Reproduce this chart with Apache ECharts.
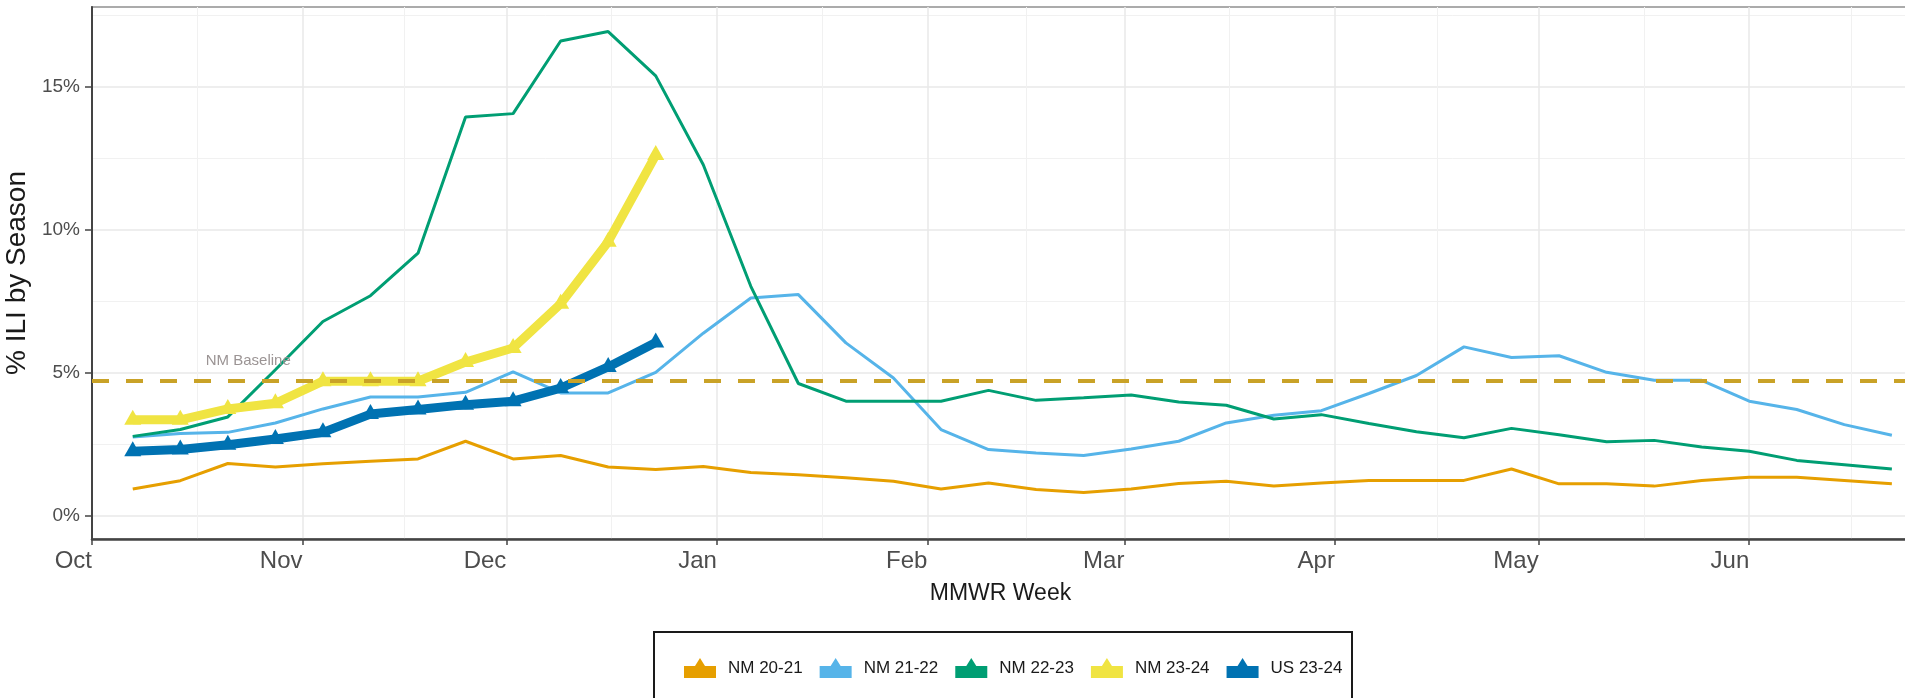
<!DOCTYPE html>
<html>
<head>
<meta charset="utf-8">
<title>% ILI by Season</title>
<script src="https://cdn.jsdelivr.net/npm/echarts@6.0.0/dist/echarts.min.js"></script>
<style>
  html, body { margin: 0; padding: 0; background: #fff; }
  #chart { width: 1905px; height: 698px; }
</style>
</head>
<body>
<div id="chart"></div>
<script>
// MMWR week ending dates (season aligned on the 2023-24 calendar)
const weeks = [
  '2023-10-07', '2023-10-14', '2023-10-21', '2023-10-28',
  '2023-11-04', '2023-11-11', '2023-11-18', '2023-11-25',
  '2023-12-02', '2023-12-09', '2023-12-16', '2023-12-23', '2023-12-30',
  '2024-01-06', '2024-01-13', '2024-01-20', '2024-01-27',
  '2024-02-03', '2024-02-10', '2024-02-17', '2024-02-24',
  '2024-03-02', '2024-03-09', '2024-03-16', '2024-03-23', '2024-03-30',
  '2024-04-06', '2024-04-13', '2024-04-20', '2024-04-27',
  '2024-05-04', '2024-05-11', '2024-05-18', '2024-05-25',
  '2024-06-01', '2024-06-08', '2024-06-15', '2024-06-22'
]

const nm2021 = [0.93, 1.22, 1.82, 1.70, 1.81, 1.90, 1.98, 2.60, 1.98, 2.10, 1.70, 1.61, 1.72,
  1.51, 1.43, 1.32, 1.20, 0.93, 1.14, 0.91, 0.81, 0.93, 1.12, 1.20, 1.03, 1.14,
  1.23, 1.23, 1.23, 1.63, 1.11, 1.11, 1.03, 1.23, 1.34, 1.34, 1.23, 1.11]
const nm2122 = [2.75, 2.87, 2.91, 3.24, 3.73, 4.15, 4.15, 4.31, 5.03, 4.29, 4.29, 5.01, 6.38,
  7.61, 7.73, 6.04, 4.81, 3.01, 2.31, 2.19, 2.10, 2.33, 2.60, 3.24, 3.51, 3.67,
  4.27, 4.90, 5.90, 5.53, 5.59, 5.01, 4.73, 4.73, 4.00, 3.71, 3.18, 2.81]
const nm2223 = [2.77, 3.01, 3.45, 5.10, 6.79, 7.69, 9.18, 13.94, 14.06, 16.60, 16.93, 15.38, 12.27,
  8.02, 4.62, 4.00, 4.00, 4.00, 4.38, 4.03, 4.12, 4.22, 3.97, 3.86, 3.38, 3.53,
  3.22, 2.93, 2.72, 3.05, 2.83, 2.58, 2.63, 2.40, 2.25, 1.93, 1.78, 1.63]
const nm2324 = [3.35, 3.35, 3.73, 3.93, 4.70, 4.70, 4.70, 5.37, 5.86, 7.41, 9.58, 12.61]
const us2324 = [2.25, 2.31, 2.48, 2.68, 2.91, 3.55, 3.71, 3.88, 4.00, 4.46, 5.20, 6.05]

const baseline = 4.7

const monthTicks = ['2023-10-01', '2023-11-01', '2023-12-01', '2024-01-01', '2024-02-01',
  '2024-03-01', '2024-04-01', '2024-05-01', '2024-06-01']
const monthLabels = ['Oct', 'Nov', 'Dec', 'Jan', 'Feb', 'Mar', 'Apr', 'May', 'Jun']
const xEnd = '2024-07-01'
const yTicks = [0, 5, 10, 15]
const yMinorTicks = [2.5, 7.5, 12.5, 17.5]

const toTime = s => new Date(s + 'T00:00:00').getTime()
const monthTimes = monthTicks.map(toTime)

// minor vertical grid halfway between month starts
const allMonths = monthTimes.concat([toTime(xEnd)])
const xMinorTicks = allMonths.slice(0, -1).map((t, i) => (t + allMonths[i + 1]) / 2)

const font = 'Liberation Sans, Arial, sans-serif'

const thinLine = (name, vals, color) => ({
  name,
  type: 'line',
  data: vals.map((v, i) => [toTime(weeks[i]), v]),
  symbol: 'none',
  lineStyle: { width: 3, color },
  itemStyle: { color },
  z: 2
})

const thickLine = (name, vals, color) => ({
  name,
  type: 'line',
  data: vals.map((v, i) => [toTime(weeks[i]), v]),
  symbol: 'triangle',
  symbolSize: [17, 15],
  symbolOffset: [0, -2.5],
  showAllSymbol: true,
  lineStyle: { width: 9, color },
  itemStyle: { color },
  z: 3
})

const chart = echarts.init(document.getElementById('chart'))

const options = {
  animation: false,
  textStyle: { fontFamily: font },
  grid: {
    left: 92,
    right: -48,
    top: 7,
    bottom: 159,
    outerBoundsMode: 'none',
    containLabel: false,
    show: true,
    backgroundColor: '#fff',
    borderColor: '#ababab',
    borderWidth: 2
  },
  graphic: [
    {
      type: 'rect',
      left: 653,
      top: 631,
      z: 0,
      shape: { width: 698, height: 100 },
      style: { fill: '#fff', stroke: '#1a1a1a', lineWidth: 2 }
    }
  ],
  legend: {
    left: 679,
    top: 653,
    itemWidth: 32,
    itemHeight: 20,
    itemGap: 17,
    icon: 'path://M0,8 L11,8 L16,0 L21,8 L32,8 L32,20 L0,20 Z',
    data: ['NM 20-21', 'NM 21-22', 'NM 22-23', 'NM 23-24', 'US 23-24'],
    textStyle: { fontSize: 17, color: '#1a1a1a', padding: [0, 0, 0, 7], fontFamily: font }
  },
  xAxis: [
    {
      type: 'value',
      min: monthTimes[0],
      max: toTime(xEnd),
      name: 'MMWR Week',
      nameLocation: 'middle',
      nameGap: 43,
      // visible part of the panel ends at the window edge, so pull the title left
      nameTextStyle: { fontSize: 23, color: '#1a1a1a', padding: [0, 44, 0, 0] },
      axisLine: { show: true, onZero: false, lineStyle: { color: '#444', width: 2.5 } },
      axisTick: { show: true, length: 6, lineStyle: { color: '#444', width: 1.5 }, customValues: monthTimes },
      axisLabel: {
        customValues: monthTimes,
        formatter: v => monthLabels[monthTimes.indexOf(v)] || '',
        align: 'right',
        margin: 10,
        fontSize: 24,
        color: '#4d4d4d'
      },
      splitLine: { show: true, lineStyle: { color: '#e8e8e8', width: 1.5 } }
    },
    {
      type: 'value',
      min: monthTimes[0],
      max: toTime(xEnd),
      position: 'bottom',
      axisLine: { show: false, onZero: false },
      axisLabel: { show: false },
      axisTick: { show: false, customValues: xMinorTicks },
      splitLine: { show: true, lineStyle: { color: '#f1f1f1', width: 1 } }
    }
  ],
  yAxis: [
    {
      type: 'value',
      min: -0.82,
      max: 17.79,
      name: '% ILI by Season',
      nameLocation: 'middle',
      nameGap: 49,
      nameTextStyle: { fontSize: 28, color: '#1a1a1a' },
      axisLine: { show: true, onZero: false, lineStyle: { color: '#444', width: 2 } },
      axisTick: { show: true, length: 7, lineStyle: { color: '#444', width: 1.5 }, customValues: yTicks },
      axisLabel: { customValues: yTicks, formatter: '{value}%', margin: 12, fontSize: 19, color: '#4d4d4d' },
      splitLine: { show: true, lineStyle: { color: '#e8e8e8', width: 1.5 } }
    },
    {
      type: 'value',
      min: -0.82,
      max: 17.79,
      position: 'left',
      axisLine: { show: false, onZero: false },
      axisLabel: { show: false },
      axisTick: { show: false, customValues: yMinorTicks },
      splitLine: { show: true, lineStyle: { color: '#f1f1f1', width: 1 } }
    }
  ],
  series: [
    thinLine('NM 20-21', nm2021, '#E69F00'),
    thinLine('NM 21-22', nm2122, '#56B4E9'),
    thinLine('NM 22-23', nm2223, '#009E73'),
    thickLine('NM 23-24', nm2324, '#F0E442'),
    thickLine('US 23-24', us2324, '#0072B2'),
    {
      name: 'baseline',
      type: 'line',
      data: [],
      z: 5,
      markLine: {
        silent: true,
        symbol: 'none',
        label: { show: false },
        lineStyle: { color: '#c9a227', width: 4, type: [17, 17] },
        data: [{ yAxis: baseline }]
      },
      markPoint: {
        silent: true,
        symbolSize: 1,
        itemStyle: { color: 'rgba(0,0,0,0)' },
        label: {
          show: true,
          position: 'inside',
          formatter: 'NM Baseline',
          fontSize: 15,
          color: '#9b9494',
          fontFamily: font
        },
        data: [{ coord: [toTime('2023-10-24'), 5.38] }]
      }
    }
  ]
}

chart.setOption(options)
</script>
</body>
</html>
